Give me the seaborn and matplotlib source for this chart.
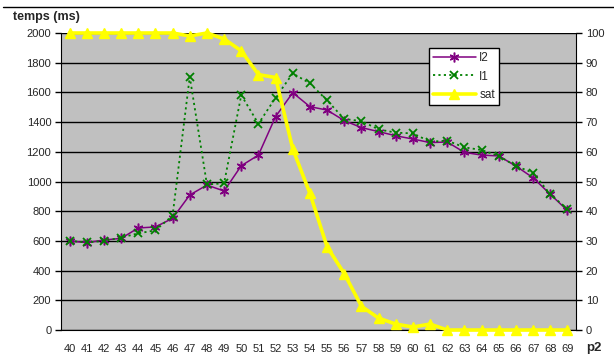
import seaborn as sns
import matplotlib.pyplot as plt
from matplotlib.lines import Line2D

# values
p2 = list(range(40, 70))
i2 = [600, 588, 606, 617, 687, 694, 752, 909, 976, 936, 1106, 1178, 1437, 1598, 1504,
      1481, 1410, 1363, 1336, 1308, 1286, 1262, 1266, 1196, 1178, 1172, 1104, 1025, 914, 805]
i1 = [600, 590, 600, 622, 651, 671, 770, 1706, 980, 988, 1582, 1389, 1564, 1728, 1661,
      1546, 1421, 1407, 1351, 1329, 1324, 1268, 1275, 1230, 1212, 1172, 1104, 1059, 914, 815]
sat = [100, 100, 100, 100, 100, 100, 100, 99, 100, 98, 94, 86, 85, 61, 46,
       28, 19, 8, 4, 2, 1, 2, 0, 0, 0, 0, 0, 0, 0, 0]

sns.set_style("white")
plt.rcParams['font.family'] = ['Liberation Sans', 'DejaVu Sans']

fig = plt.figure(figsize=(6.14, 3.58), dpi=100)
ax = fig.add_axes([61/614, 1 - 330/358, (576 - 61)/614, (330 - 33)/358])
ax.set_facecolor('#c0c0c0')

sns.lineplot(x=p2, y=i2, ax=ax, color='#800080', lw=1.1, marker=(6, 2, 0), markersize=7,
             markeredgecolor='#800080', markeredgewidth=1.1, label='I2')
sns.lineplot(x=p2, y=i1, ax=ax, color='#008000', lw=1.3, linestyle=(0, (1.2, 1.8)), marker='x',
             markersize=6, markeredgecolor='#008000', markeredgewidth=1.3, label='I1')

ax2 = ax.twinx()
sns.lineplot(x=p2, y=sat, ax=ax2, color='#ffff00', lw=2.6, marker='^', markersize=7.5,
             markeredgecolor='#ffff00', markeredgewidth=1, label='sat', clip_on=False)

ax.set_xlim(39.5, 69.5)
ax.set_ylim(0, 2000)
ax2.set_ylim(0, 100)
ax.set_yticks(range(0, 2001, 200))
ax2.set_yticks(range(0, 101, 10))
ax.set_xticks(p2)
ax.set_xticks([x + 0.5 for x in range(39, 70)], minor=True)
ax.tick_params(axis='x', which='major', length=0, labelsize=8, pad=10)
ax.tick_params(axis='x', which='minor', length=4, width=1, color='black', direction='out')
ax.tick_params(axis='y', length=4, width=1, color='black', direction='out', labelsize=8, pad=3)
ax2.tick_params(axis='y', length=4, width=1, color='black', direction='out', labelsize=8, pad=3)
ax.grid(axis='y', color='black', lw=1)
ax.set_axisbelow(True)

for s in ['top']:
    ax.spines[s].set_visible(False)
    ax2.spines[s].set_visible(False)
ax.spines['left'].set_color('black')
ax.spines['bottom'].set_color('black')
ax2.spines['right'].set_color('black')
ax2.spines['left'].set_visible(False)
ax2.spines['bottom'].set_visible(False)
ax.spines['right'].set_visible(False)
ax.set_xlabel('')
ax.set_ylabel('')
ax2.set_ylabel('')

h1, l1 = ax.get_legend_handles_labels()
h2, l2 = ax2.get_legend_handles_labels()
ax.get_legend().remove()
leg = ax2.legend(h1 + h2, l1 + l2, loc='upper left', bbox_to_anchor=(429/614, 1 - 48/358),
                 bbox_transform=fig.transFigure, fontsize=8.5, frameon=True, fancybox=False,
                 edgecolor='black', facecolor='white', framealpha=1, handlelength=3.6,
                 borderpad=0.35, labelspacing=0.55, handletextpad=0.3, borderaxespad=0)
leg.get_frame().set_linewidth(1)

fig.text(13/614, 1 - 17/358, 'temps (ms)', fontsize=9, fontweight='bold', va='center', ha='left')
fig.text(586/614, 1 - 348/358, 'p2', fontsize=9.5, fontweight='bold', va='center', ha='left')
fig.add_artist(Line2D([0.005, 1], [1 - 7/358, 1 - 7/358], color='black', lw=1))

fig.savefig('out.png', dpi=100)
